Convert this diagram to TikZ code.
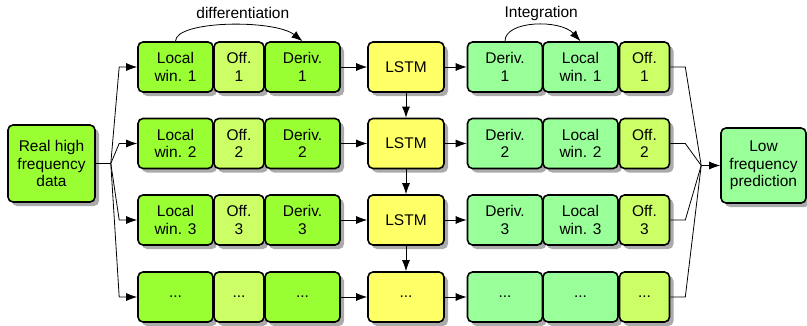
\documentclass[tikz,border=0pt]{standalone}
\usepackage{fontspec}
\setmainfont{Liberation Sans}
\usetikzlibrary{positioning}
\usetikzlibrary{arrows.meta}
\usetikzlibrary{shadows}
\usetikzlibrary{calc}

\definecolor{limegreen}{HTML}{99FF33}
\definecolor{palelime}{HTML}{CCFF66}
\definecolor{lstmyellow}{HTML}{FFFF66}
\definecolor{mintgreen}{HTML}{99FF99}

\tikzset{
  cell/.style={draw, line width=1.6pt, rounded corners=5pt, minimum height=50pt,
    align=center, inner sep=0pt, font=\fontsize{15.5}{17.5}\selectfont,
    drop shadow={shadow xshift=4pt, shadow yshift=-4pt, fill=black!55, opacity=0.6}},
  wincell/.style={cell, fill=limegreen, minimum width=75pt},
  offcell/.style={cell, fill=palelime, minimum width=50pt},
  lstmcell/.style={cell, fill=lstmyellow, minimum width=76pt},
  outcell/.style={cell, fill=mintgreen, minimum width=75pt},
  link/.style={line width=0.8pt},
  steplabel/.style={font=\fontsize{15.5}{17.5}\selectfont}
}

\begin{document}
\begin{tikzpicture}[x=1pt, y=1pt, >={Latex[length=11pt,width=8pt]}]
\useasboundingbox (0,0) rectangle (807,325);

\node[cell, fill=limegreen, minimum width=87pt, minimum height=77pt] (src) at (51.5,161.5) {Real high\\frequency\\data};
\node[cell, fill=mintgreen, minimum width=85pt, minimum height=75pt] (dst) at (763.5,159.5) {Low\\frequency\\prediction};

\node[wincell] (lw1) at (175.5,258) {Local\\win. 1};
\node[offcell] (of1) at (239,258) {Off.\\1};
\node[wincell] (dv1) at (302.5,258) {Deriv.\\1};
\node[lstmcell] (ls1) at (406,258) {LSTM};
\node[outcell] (di1) at (505,258) {Deriv.\\1};
\node[outcell] (li1) at (580.5,258) {Local\\win. 1};
\node[offcell] (oi1) at (644.5,258) {Off.\\1};

\node[wincell] (lw2) at (175.5,181.5) {Local\\win. 2};
\node[offcell] (of2) at (239,181.5) {Off.\\2};
\node[wincell] (dv2) at (302.5,181.5) {Deriv.\\2};
\node[lstmcell] (ls2) at (406,181.5) {LSTM};
\node[outcell] (di2) at (505,181.5) {Deriv.\\2};
\node[outcell] (li2) at (580.5,181.5) {Local\\win. 2};
\node[offcell] (oi2) at (644.5,181.5) {Off.\\2};

\node[wincell] (lw3) at (175.5,105) {Local\\win. 3};
\node[offcell] (of3) at (239,105) {Off.\\3};
\node[wincell] (dv3) at (302.5,105) {Deriv.\\3};
\node[lstmcell] (ls3) at (406,105) {LSTM};
\node[outcell] (di3) at (505,105) {Deriv.\\3};
\node[outcell] (li3) at (580.5,105) {Local\\win. 3};
\node[offcell] (oi3) at (644.5,105) {Off.\\3};

\node[wincell] (lw4) at (175.5,28) {...};
\node[offcell] (of4) at (239,28) {...};
\node[wincell] (dv4) at (302.5,28) {...};
\node[lstmcell] (ls4) at (406,28) {...};
\node[outcell] (di4) at (505,28) {...};
\node[outcell] (li4) at (580.5,28) {...};
\node[offcell] (oi4) at (644.5,28) {...};

% fan out of the input
\coordinate (fanin) at ($(src.east)+(15,0)$);
\draw[link] (src.east) -- (fanin);
\draw[link, ->] (fanin) -- ([xshift=-18pt]lw1.west) -- (lw1.west);
\draw[link, ->] (fanin) -- ([xshift=-18pt]lw2.west) -- (lw2.west);
\draw[link, ->] (fanin) -- ([xshift=-18pt]lw3.west) -- (lw3.west);
\draw[link, ->] (fanin) -- ([xshift=-18pt]lw4.west) -- (lw4.west);

\draw[link, ->] (dv1.east) -- (ls1.west);
\draw[link, ->] (dv2.east) -- (ls2.west);
\draw[link, ->] (dv3.east) -- (ls3.west);
\draw[link, ->] (dv4.east) -- (ls4.west);

\draw[link, ->] (ls1.east) -- (di1.west);
\draw[link, ->] (ls2.east) -- (di2.west);
\draw[link, ->] (ls3.east) -- (di3.west);
\draw[link, ->] (ls4.east) -- (di4.west);

\draw[link, ->] (ls1.south) -- (ls2.north);
\draw[link, ->] (ls2.south) -- (ls3.north);
\draw[link, ->] (ls3.south) -- (ls4.north);

% fan in to the output
\coordinate (fanout) at ([xshift=-19pt]dst.west);
\draw[link] (oi1.east) -- ([xshift=15pt]oi1.east) -- (fanout);
\draw[link] (oi2.east) -- ([xshift=15pt]oi2.east) -- (fanout);
\draw[link] (oi3.east) -- ([xshift=15pt]oi3.east) -- (fanout);
\draw[link] (oi4.east) -- ([xshift=15pt]oi4.east) -- (fanout);
\draw[link, ->] (fanout) -- (dst.west);

\draw[link, ->] (lw1.north) .. controls +(0,21) and +(-28,22) .. (dv1.north);
\draw[link, ->] (di1.north) .. controls +(0,21) and +(-20,22) .. (li1.north);
\node[steplabel] (difflbl) at ($(lw1.north)!0.53!(dv1.north)+(0,28)$) {differentiation};
\node[steplabel] (intlbl) at ($(di1.north)!0.48!(li1.north)+(0,28)$) {Integration};
\end{tikzpicture}
\end{document}
